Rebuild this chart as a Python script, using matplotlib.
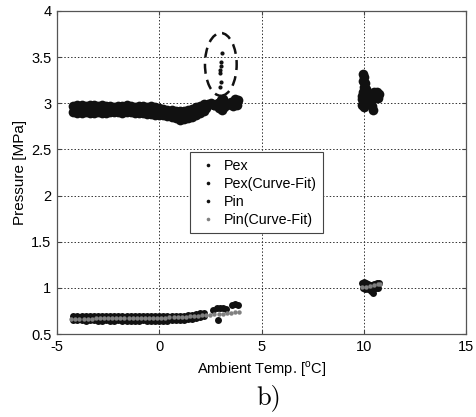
import matplotlib
matplotlib.use("Agg")
import matplotlib.pyplot as plt
from matplotlib.lines import Line2D
from matplotlib.patches import Ellipse

plt.rcParams['font.family'] = ['Liberation Sans', 'DejaVu Sans']
plt.rcParams['mathtext.fontset'] = 'custom'
plt.rcParams['mathtext.rm'] = 'Liberation Sans'
plt.rcParams['axes.unicode_minus'] = False

# ---------------- data ----------------
# Pex main band (two edges of the dense band)
band_t = [-4.2, -4.0, -3.8, -3.6, -3.4, -3.2, -3.0, -2.8, -2.6, -2.4, -2.2, -2.0, -1.8,
          -1.6, -1.4, -1.2, -1.0, -0.8, -0.6, -0.4, -0.2, 0.0, 0.2, 0.4, 0.6, 0.8, 1.0,
          1.2, 1.4, 1.6, 1.8, 2.0, 2.2]
pex_top = [2.97, 2.98, 2.98, 2.97, 2.98, 2.98, 2.97, 2.98, 2.97, 2.97, 2.96, 2.97, 2.97,
           2.98, 2.97, 2.96, 2.97, 2.97, 2.96, 2.97, 2.96, 2.95, 2.94, 2.93, 2.93, 2.92,
           2.92, 2.92, 2.93, 2.94, 2.96, 2.97, 2.99]
pex_bot = [2.90, 2.89, 2.89, 2.90, 2.89, 2.89, 2.90, 2.89, 2.89, 2.90, 2.90, 2.90, 2.89,
           2.90, 2.90, 2.89, 2.89, 2.89, 2.88, 2.88, 2.87, 2.87, 2.87, 2.86, 2.85, 2.84,
           2.82, 2.83, 2.84, 2.85, 2.87, 2.89, 2.91]
# Pex scattered groups
pex_extra_t = [2.4, 2.55, 2.7, 2.85, 3.0, 3.1, 3.2, 2.9, 3.05, 3.15, 3.3,
               3.55, 3.7, 3.85, 3.6, 3.8,
               9.95, 10.0, 9.95, 10.05, 10.0, 10.1, 9.95, 10.05, 9.9, 10.0, 9.9, 10.0, 10.1,
               10.2, 10.35, 10.5, 10.65, 10.75, 10.7, 10.55, 10.4, 10.3, 10.4, 10.45]
pex_extra_p = [2.99, 3.00, 2.98, 3.00, 3.03, 3.05, 3.00, 2.95, 2.93, 2.96, 2.98,
               3.00, 3.04, 3.03, 2.97, 2.98,
               3.32, 3.28, 3.24, 3.22, 3.18, 3.15, 3.12, 3.08, 3.05, 3.02, 2.98, 2.96, 3.00,
               3.10, 3.10, 3.12, 3.12, 3.10, 3.06, 3.06, 3.05, 3.00, 2.97, 2.93]
# Pex outliers (inside the dashed ellipse)
pex_out_t = [3.07, 3.02, 3.02, 2.99, 2.95, 3.02, 2.99]
pex_out_p = [3.54, 3.45, 3.40, 3.36, 3.33, 3.23, 3.18]

# Pex curve fit
pexfit_t = [-4.1, -3.7, -3.3, -2.9, -2.5, -2.1, -1.7, -1.3, -0.9, -0.5, -0.1, 0.3, 0.7,
            1.1, 1.5, 1.9, 2.3, 2.7, 3.1, 3.5, 3.8, 9.9, 10.2, 10.5, 10.7]
pexfit_p = [2.935, 2.935, 2.935, 2.935, 2.935, 2.935, 2.935, 2.93, 2.93, 2.925, 2.915,
            2.905, 2.895, 2.885, 2.895, 2.915, 2.95, 2.98, 3.00, 3.01, 3.01,
            3.08, 3.09, 3.09, 3.09]

# Pin band
pin_top = [0.69, 0.69, 0.70, 0.69, 0.69, 0.70, 0.70, 0.69, 0.69, 0.70, 0.69, 0.69, 0.69,
           0.70, 0.69, 0.69, 0.70, 0.69, 0.69, 0.69, 0.69, 0.69, 0.69, 0.70, 0.69, 0.70,
           0.70, 0.70, 0.71, 0.71, 0.72, 0.73, 0.73]
pin_bot = [0.655, 0.655, 0.655, 0.645, 0.655, 0.655, 0.645, 0.645, 0.655, 0.645, 0.645,
           0.655, 0.645, 0.645, 0.645, 0.645, 0.645, 0.655, 0.645, 0.645, 0.645, 0.64,
           0.645, 0.645, 0.655, 0.655, 0.655, 0.655, 0.665, 0.665, 0.675, 0.685, 0.695]
pin_extra_t = [2.65, 2.8, 2.95, 3.1, 3.25, 2.85, 3.55, 3.7, 3.85,
               9.9, 10.0, 10.1, 10.2, 10.35, 10.5, 10.65, 10.75,
               9.95, 10.05, 10.2, 10.35, 10.45, 10.6, 10.7]
pin_extra_p = [0.76, 0.78, 0.78, 0.78, 0.77, 0.655, 0.81, 0.82, 0.815,
               1.05, 1.06, 1.05, 1.04, 1.03, 1.04, 1.05, 1.05,
               1.00, 0.99, 0.99, 0.97, 0.94, 1.00, 1.00]

# Pin curve fit
pinfit_t = [-4.3, -4.1, -3.9, -3.7, -3.5, -3.3, -3.1, -2.9, -2.7, -2.5, -2.3, -2.1, -1.9,
            -1.7, -1.5, -1.3, -1.1, -0.9, -0.7, -0.5, -0.3, -0.1, 0.1, 0.3, 0.5, 0.7,
            0.9, 1.1, 1.3, 1.5, 1.7, 1.9, 2.1, 2.3, 2.5, 2.7, 2.9, 3.1, 3.3, 3.5, 3.7, 3.9,
            9.9, 10.1, 10.3, 10.5, 10.7, 10.8]
pinfit_p = [0.668, 0.668, 0.668, 0.668, 0.668, 0.668, 0.669, 0.669, 0.669, 0.669, 0.670,
            0.670, 0.670, 0.670, 0.671, 0.671, 0.672, 0.672, 0.673, 0.674, 0.675, 0.676,
            0.677, 0.678, 0.680, 0.682, 0.684, 0.686, 0.689, 0.692, 0.695, 0.698, 0.702,
            0.706, 0.710, 0.714, 0.718, 0.722, 0.727, 0.732, 0.737, 0.742,
            1.005, 1.010, 1.020, 1.030, 1.040, 1.045]

xticks = [-5, 0, 5, 10, 15]
yticks = [0.5, 1, 1.5, 2, 2.5, 3, 3.5, 4]
ytick_labels = ['0.5', '1', '1.5', '2', '2.5', '3', '3.5', '4']

# ---------------- figure ----------------
fig = plt.figure(figsize=(4.77, 4.17), dpi=100)
ax = fig.add_axes([0.1195, 0.199, 0.8575, 0.775])

blk = '#111111'
gry = '#808080'
ms_big = 7.0
ms_pin = 5.0

ax.plot(band_t, pex_top, 'o', color=blk, ms=ms_big, mew=0, zorder=3)
ax.plot(band_t, pex_bot, 'o', color=blk, ms=ms_big, mew=0, zorder=3)
ax.plot(pex_extra_t, pex_extra_p, 'o', color=blk, ms=ms_big, mew=0, zorder=3)
ax.plot(pex_out_t, pex_out_p, 'o', color=blk, ms=3, mew=0, zorder=3)
ax.plot(pexfit_t, pexfit_p, 'o', color=blk, ms=ms_big, mew=0, zorder=3)

ax.plot(band_t, pin_top, 'o', color=blk, ms=ms_pin, mew=0, zorder=3)
ax.plot(band_t, pin_bot, 'o', color=blk, ms=ms_pin, mew=0, zorder=3)
ax.plot(pin_extra_t, pin_extra_p, 'o', color=blk, ms=ms_pin, mew=0, zorder=3)
ax.plot(pinfit_t, pinfit_p, 'o', color=gry, ms=3.2, mew=0, zorder=4)

# dashed ellipse around outliers
ax.add_patch(Ellipse((3.01, 3.42), 1.55, 0.68, fill=False, ls=(0, (4, 2.5)),
                     lw=1.8, ec=blk, zorder=5))

ax.set_xlim(-5, 15)
ax.set_ylim(0.5, 4)
ax.set_xticks(xticks)
ax.set_yticks(yticks)
ax.set_yticklabels(ytick_labels)
ax.tick_params(direction='in', length=3, labelsize=10.5, top=True, right=True,
               color='#444444', pad=4)
ax.grid(True, ls=(0, (1.5, 2)), color='#333333', lw=0.7)
for s in ax.spines.values():
    s.set_color('#555555')
    s.set_linewidth(0.9)

ax.set_xlabel('Ambient Temp. [$^{\\mathrm{o}}$C]', fontsize=10.5, labelpad=4)
ax.set_ylabel('Pressure [MPa]', fontsize=11, labelpad=3)

handles = [Line2D([], [], ls='none', marker='o', ms=2.6, color=blk, mew=0),
           Line2D([], [], ls='none', marker='o', ms=2.6, color=blk, mew=0),
           Line2D([], [], ls='none', marker='o', ms=2.6, color=blk, mew=0),
           Line2D([], [], ls='none', marker='o', ms=2.6, color=gry, mew=0)]
leg = ax.legend(handles, ['Pex', 'Pex(Curve-Fit)', 'Pin', 'Pin(Curve-Fit)'],
                loc='upper left', bbox_to_anchor=(0.325, 0.563), fontsize=10.3,
                frameon=True, fancybox=False, framealpha=1, edgecolor='#444444',
                borderpad=0.45, labelspacing=0.28, handletextpad=0.3,
                handlelength=1.6, borderaxespad=0)
leg.get_frame().set_linewidth(0.8)

fig.text(0.564, 0.047, 'b)', fontsize=19, family=['cmr10', 'DejaVu Serif'],
         ha='center', va='center')

fig.savefig('out.png', dpi=100)
